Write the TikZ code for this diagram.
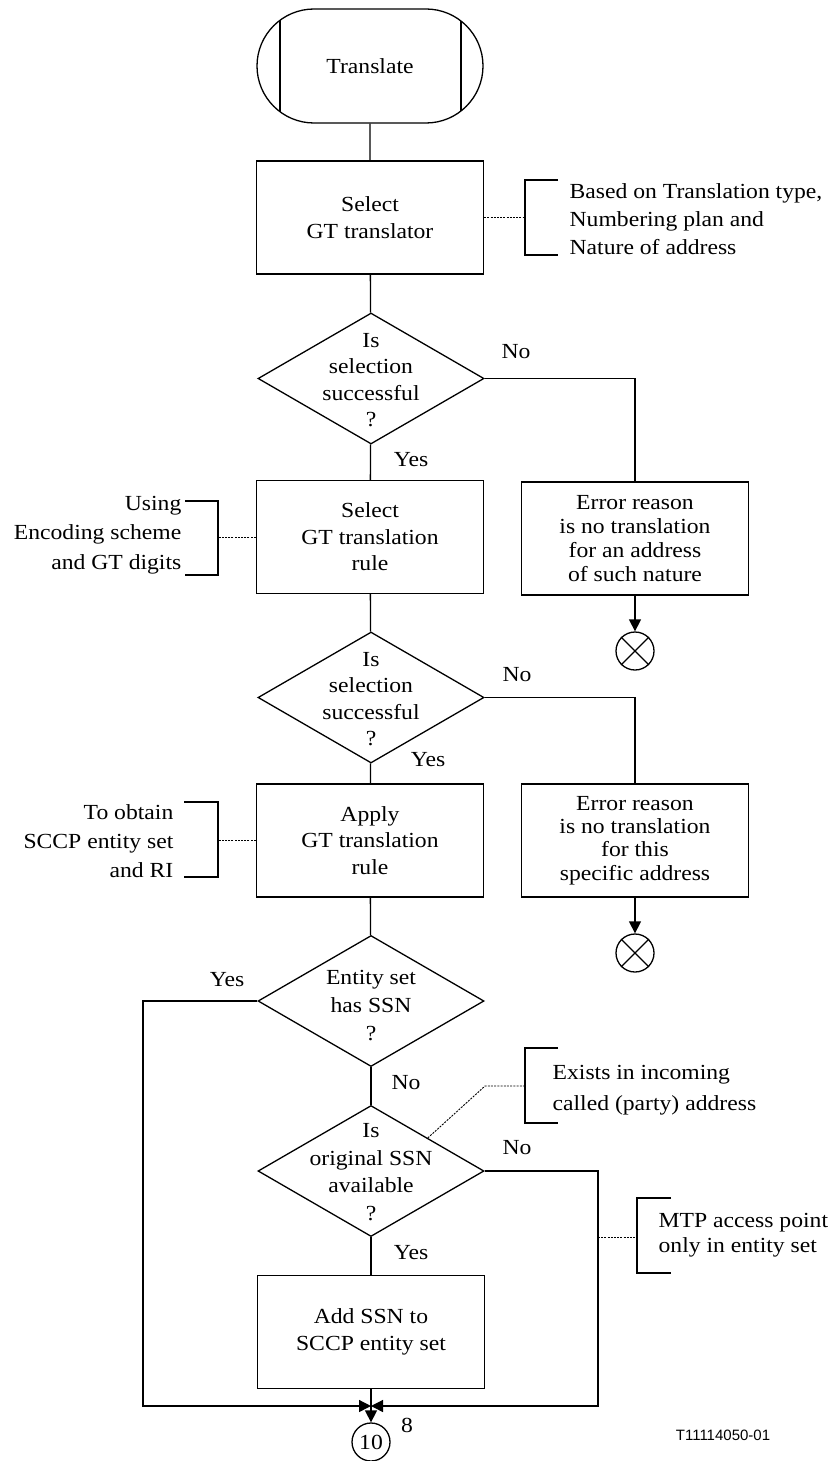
\documentclass[tikz,border=0pt]{standalone}
\usepackage{fontspec}
\setmainfont{Liberation Serif}[FakeStretch=1.1]
\newfontfamily\sfnum{Liberation Sans}
\usetikzlibrary{shapes.geometric,shapes.misc,arrows.meta,calc}
\begin{document}
\begin{tikzpicture}[x=1pt,y=-1pt,line width=1.3pt,
  fnt/.style={font=\fontsize{21.5pt}{26.5pt}\selectfont},
  term/.style={draw, rounded rectangle, minimum width=226pt, minimum height=114pt, inner sep=0pt, fnt},
  box/.style={draw, minimum width=227pt, minimum height=113pt, inner sep=0pt, align=center, fnt},
  errbox/.style={font=\fontsize{21.5pt}{24.2pt}\selectfont},
  dia/.style={draw, diamond, minimum width=226pt, minimum height=131pt, inner sep=0pt},
  dtxt/.style={fnt, align=center, inner sep=0pt},
  lbl/.style={fnt, inner sep=0pt},
  ann/.style={inner sep=0pt},
  brk/.style={line width=1.3pt},
  dotln/.style={line width=0.9pt, dash pattern=on 2pt off 1.2pt},
  arr/.style={-{Triangle[length=12pt,width=12pt]}},
  xc/.style={draw, circle, minimum size=38pt, inner sep=0pt}
]
\useasboundingbox (0,0) rectangle (836,1461);

% main column
\node[term] (t) at (370,66) {Translate};
\draw (280,20.3) -- (280,111.7);
\draw (461,21) -- (461,111);

\node[box] (b1) at (370,217.5) {Select\\GT translator};
\node[dia] (d1) at (371,378.5) {};
\node[dtxt] (d1t) at (371,380) {Is\\selection\\successful\\?};
\node[box] (b2) at (370,537) {Select\\GT translation\\rule};
\node[dia] (d2) at (371,697.5) {};
\node[dtxt] (d2t) at (371,699) {Is\\selection\\successful\\?};
\node[box] (b3) at (370,840.5) {Apply\\GT translation\\rule};
\node[dia] (d3) at (371,1001) {};
\node[dtxt, font=\fontsize{21.5pt}{28pt}\selectfont] (d3t) at (371,1006) {Entity set\\has SSN\\?};
\node[dia] (d4) at (371,1171) {};
\node[dtxt, font=\fontsize{21.5pt}{27.5pt}\selectfont] (d4t) at (371,1172) {Is\\original SSN\\available\\?};
\node[box] (b4) at (371,1332) {Add SSN to\\SCCP entity set};
\coordinate (jn) at (371,1406);
\node[xc] (c10) at (371,1442) {};
\node[lbl] (c10t) at (c10.center) {10};

% error branch
\node[box, errbox] (e1) at (635,538.5) {Error reason\\is no translation\\for an address\\of such nature};
\node[xc] (x1) at (635,651) {};
\node[box, font=\fontsize{21.5pt}{23.4pt}\selectfont] (e2) at (635,840.5) {Error reason\\is no translation\\for this\\specific address};
\node[xc] (x2) at (635,953) {};

% labels
\node[lbl] (no1) at (516,352) {No};
\node[lbl] (yes1) at (411,460) {Yes};
\node[lbl] (no2) at (517,675) {No};
\node[lbl] (yes2) at (428,760) {Yes};
\node[lbl] (yes3) at (227,980) {Yes};
\node[lbl] (no3) at (406,1083) {No};
\node[lbl] (no4) at (517,1148) {No};
\node[lbl] (yes4) at (411,1253) {Yes};
\node[lbl] (eight) at (407,1425) {8};
\node[inner sep=0pt, font=\sfnum\fontsize{15pt}{18pt}\selectfont] (tid) at (723,1435) {T11114050-01};

% connectors
\draw (t) -- (b1);
\draw (b1) -- (d1);
\draw (d1) -- (b2);
\draw (b2) -- (d2);
\draw (d2) -- (b3);
\draw (b3) -- (d3);
\draw (d3) -- (d4);
\draw (d4) -- (b4);
\draw (b4.south) -- (jn);
\draw[arr] (jn) -- (c10.north);
\draw (d1.east) -| (e1.north);
\draw (d2.east) -| (e2.north);
\draw[arr] (e1.south) -- (x1.north);
\draw[arr] (e2.south) -- (x2.north);
\draw (x1.north west) -- (x1.south east) (x1.north east) -- (x1.south west);
\draw (x2.north west) -- (x2.south east) (x2.north east) -- (x2.south west);
\coordinate (jL) at (143,1406);
\coordinate (jR) at (598,1406);
\draw[arr] (d3.west) -| (jL) -- (jn);
\draw[arr] (d4.east) -| (jR) -- (jn);

% annotation 1
\coordinate (a1) at (525,217.5);
\draw[dotln] (b1.east) -- (a1);
\draw[brk] (558,180) -- (525,180) -- (525,255) -- (558,255);
\node[ann, anchor=west, align=left, font=\fontsize{21.5pt}{28pt}\selectfont] (a1t) at (569,219) {Based on Translation type,\\Numbering plan and\\Nature of address};

% annotation 2
\coordinate (a2) at (218,537);
\draw[dotln] (b2.west) -- (a2);
\draw[brk] (185,501) -- (218,501) -- (218,575) -- (185,575);
\node[ann, anchor=east, align=right, font=\fontsize{21.5pt}{29.5pt}\selectfont] (a2t) at (182,535) {Using\\Encoding scheme\\and GT digits};

% annotation 3
\coordinate (a3) at (218,840.5);
\draw[dotln] (b3.west) -- (a3);
\draw[brk] (184,802) -- (218,802) -- (218,877) -- (184,877);
\node[ann, anchor=east, align=right, font=\fontsize{21.5pt}{29pt}\selectfont] (a3t) at (174,841) {To obtain\\SCCP entity set\\and RI};

% annotation 4
\coordinate (a4s) at ($(d4.north)!0.5!(d4.east)$);
\coordinate (a4k) at (485,1086);
\coordinate (a4) at (525,1086);
\draw[dotln] (a4s) -- (a4k) -- (a4);
\draw[brk] (558,1048) -- (525,1048) -- (525,1123) -- (558,1123);
\node[ann, anchor=west, align=left, font=\fontsize{21.5pt}{31pt}\selectfont] (a4t) at (552,1090) {Exists in incoming\\called (party) address};

% annotation 5
\coordinate (a5s) at (598,1237);
\coordinate (a5) at (637,1237);
\draw[dotln] (a5s) -- (a5);
\draw[brk] (671,1198) -- (637,1198) -- (637,1273) -- (671,1273);
\node[ann, anchor=west, align=left, font=\fontsize{21.5pt}{25pt}\selectfont] (a5t) at (658,1235) {MTP access point\\only in entity set};
\end{tikzpicture}
\end{document}
